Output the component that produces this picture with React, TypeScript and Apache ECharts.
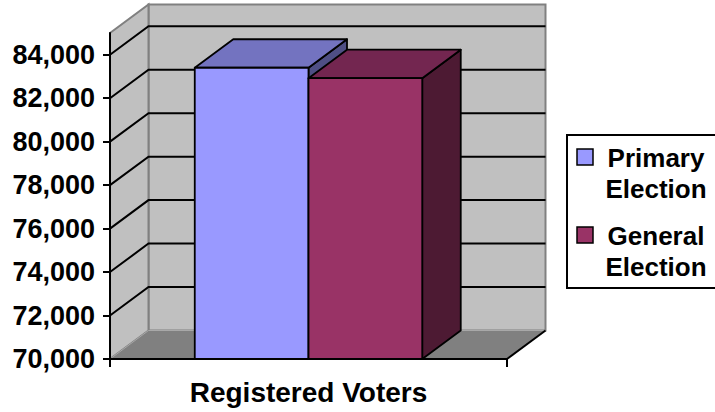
import React, { useEffect, useRef } from 'react';
import * as echarts from 'echarts';

// ---- data ----
const categories = ['Registered Voters'];
const seriesNames = ['Primary Election', 'General Election'];
const primaryValues = [83400];
const generalValues = [82920];
const yTicks = [70000, 72000, 74000, 76000, 78000, 80000, 82000, 84000];
const Y_MIN = 70000;
const Y_MAX = 85000;
const Y_STEP = 2000;

// ---- styles ----
const FONT = '"Liberation Sans", Arial, sans-serif';
const DX = 38.5;
const DY = -28.5;
const BAR_RATIO = 0.2865;
const primaryColors = { front: '#9999FF', top: '#7373C0', side: '#4F4F85' };
const generalColors = { front: '#993366', top: '#732650', side: '#4D1A33' };

const fmt = (v: number) => String(v).replace(/\B(?=(\d{3})+(?!\d))/g, ',');

const wallSeries = {
  type: 'custom',
  name: '__walls',
  z: 1,
  silent: true,
  clip: false,
  data: [[0, Y_MIN]],
  encode: { x: 0, y: 1 },
  renderItem: (params: any, api: any) => {
    const cs = params.coordSys;
    const x0 = cs.x, x1 = cs.x + cs.width, yT = cs.y, yB = cs.y + cs.height;
    const children: any[] = [];
    children.push({
      type: 'polygon',
      shape: { points: [[x0 + DX, yT + DY], [x1 + DX, yT + DY], [x1 + DX, yB + DY], [x0 + DX, yB + DY]] },
      style: { fill: '#C0C0C0', stroke: '#808080', lineWidth: 2 },
    });
    children.push({
      type: 'polygon',
      shape: { points: [[x0, yT], [x0 + DX, yT + DY], [x0 + DX, yB + DY], [x0, yB]] },
      style: { fill: '#C0C0C0', stroke: '#808080', lineWidth: 2 },
    });
    children.push({
      type: 'polygon',
      shape: { points: [[x0, yB], [x0 + DX, yB + DY], [x1 + DX, yB + DY], [x1, yB]] },
      style: { fill: '#808080' },
    });
    children.push({
      type: 'polyline',
      shape: { points: [[x0, yB], [x0 + DX, yB + DY], [x1 + DX, yB + DY]] },
      style: { fill: null, stroke: '#A8A8A8', lineWidth: 1 },
    });
    children.push({
      type: 'line',
      shape: { x1: x1, y1: yB, x2: x1 + DX, y2: yB + DY },
      style: { stroke: '#000', lineWidth: 2 },
    });
    yTicks.filter((v) => v > Y_MIN).forEach((v) => {
      const y = api.coord([0, v])[1];
      children.push({
        type: 'polyline',
        shape: { points: [[x0, y], [x0 + DX, y + DY], [x1 + DX, y + DY]] },
        style: { fill: null, stroke: '#000', lineWidth: 2 },
      });
    });
    return { type: 'group', children };
  },
};

const barSeries = (name: string, values: number[], slot: number, colors: any) => ({
  type: 'custom',
  name,
  z: 2,
  clip: false,
  itemStyle: { color: colors.front },
  data: values.map((v, i) => [i, v]),
  encode: { x: 0, y: 1 },
  renderItem: (params: any, api: any) => {
    const cat = api.value(0);
    const base = api.coord([cat, Y_MIN]);
    const cx = base[0];
    const yBot = base[1];
    const yTop = api.coord([cat, api.value(1)])[1];
    const w = api.size([1, 0])[0] * BAR_RATIO;
    const x0 = cx - w + slot * w;
    const x1 = x0 + w;
    const st = (fill: string) => ({ fill, stroke: '#000', lineWidth: 1.8, lineJoin: 'round' });
    return {
      type: 'group',
      children: [
        { type: 'polygon', shape: { points: [[x1, yTop], [x1 + DX, yTop + DY], [x1 + DX, yBot + DY], [x1, yBot]] }, style: st(colors.side) },
        { type: 'polygon', shape: { points: [[x0, yTop], [x0 + DX, yTop + DY], [x1 + DX, yTop + DY], [x1, yTop]] }, style: st(colors.top) },
        { type: 'rect', shape: { x: x0, y: yTop, width: w, height: yBot - yTop }, style: st(colors.front) },
      ],
    };
  },
});

const legendColors = [primaryColors.front, generalColors.front];
const legendGraphic = () => {
  const els: any[] = [
    { type: 'rect', left: 566, top: 134, shape: { x: 0, y: 0, width: 170, height: 153 }, style: { fill: '#fff', stroke: '#000', lineWidth: 2 }, z: 10 },
  ];
  const itemTops = [149, 227];
  seriesNames.forEach((n, i) => {
    els.push({
      type: 'rect',
      shape: { x: 577, y: itemTops[i], width: 16, height: 16 },
      style: { fill: legendColors[i], stroke: '#000', lineWidth: 1.5 },
      z: 11,
    });
    els.push({
      type: 'text',
      x: 656,
      y: itemTops[i] + 8.5 - 15.75,
      style: {
        text: n.split(' ').join('\n'),
        font: `bold 26px ${FONT}`,
        fill: '#000',
        textAlign: 'center',
        textVerticalAlign: 'top',
        lineHeight: 31.5,
      },
      z: 11,
    });
  });
  return els;
};

export default function App() {
  const ref = useRef<HTMLDivElement>(null);
  useEffect(() => {
    if (!ref.current) return;
    const chart = echarts.init(ref.current, null, { renderer: 'svg' });
    chart.setOption({
      animation: false,
      backgroundColor: '#fff',
      grid: { left: 110, top: 33, right: 208, bottom: 53 },
      xAxis: {
        type: 'category',
        data: categories,
        z: 5,
        axisLine: { show: true, lineStyle: { color: '#000', width: 2 } },
        axisTick: { show: true, length: 8, lineStyle: { color: '#000', width: 2 } },
        axisLabel: { margin: 19, color: '#000', fontFamily: FONT, fontWeight: 'bold', fontSize: 28 },
        splitLine: { show: false },
      },
      yAxis: {
        type: 'value',
        min: Y_MIN,
        max: Y_MAX,
        interval: Y_STEP,
        z: 5,
        axisLine: { show: true, lineStyle: { color: '#000', width: 2 } },
        axisTick: { show: true, length: 7, customValues: yTicks, lineStyle: { color: '#000', width: 2 } },
        axisLabel: {
          margin: 15,
          customValues: yTicks,
          color: '#000',
          fontFamily: FONT,
          fontWeight: 'bold',
          fontSize: 27,
          formatter: (v: number) => fmt(v),
        },
        splitLine: { show: false },
      },
      series: [
        wallSeries,
        barSeries(seriesNames[0], primaryValues, 0, primaryColors),
        barSeries(seriesNames[1], generalValues, 1, generalColors),
      ],
      graphic: legendGraphic(),
    });
    return () => chart.dispose();
  }, []);
  return <div ref={ref} style={{ position: 'absolute', left: 0, top: 0, width: 715, height: 412 }} />;
}
